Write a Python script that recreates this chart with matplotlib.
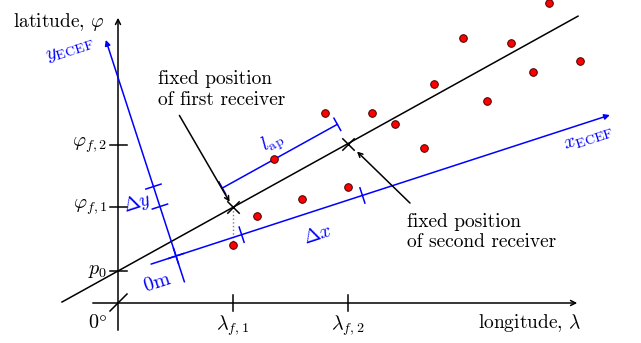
import numpy as np
import matplotlib
matplotlib.use('Agg')
import matplotlib.pyplot as plt

plt.rcParams.update({
    'font.family': 'serif',
    'font.serif': ['cmr10', 'DejaVu Serif'],
    'mathtext.fontset': 'cm',
    'axes.unicode_minus': False,
})

# diagram units: pixels relative to the origin of the lon/lat axes
DOT_LON = [115, 139, 184, 230, 156, 207, 254, 277, 306, 316, 345, 369, 393, 415, 431, 462]
DOT_LAT = [58, 87, 104, 116, 144, 190, 190, 179, 155, 219, 265, 202, 260, 231, 300, 242]

P0 = 32
SLOPE = 0.554
RX_LON = [115, 230]                      # lambda_f,1 / lambda_f,2
RX_LAT = [P0 + SLOPE * x for x in RX_LON]
PHI_TICKS = [P0, 96, 158]
PHI_LABELS = [r'$p_0$', r'$\varphi_{f,1}$', r'$\varphi_{f,2}$']
LAM_LABELS = [r'$\lambda_{f,1}$', r'$\lambda_{f,2}$']

ECEF_ORIGIN = (58, 47)
ECEF_ANGLE = 18.0
DX_TICKS = [69, 196]
DY_TICKS = [52, 73]

BLUE = '#0000FF'

fig = plt.figure(figsize=(6.41, 3.43), dpi=100)
ax = fig.add_axes([0, 0, 1, 1])
ax.set_xlim(-118, 523)
ax.set_ylim(-40, 303)
ax.axis('off')

FS = 14
MFS = 14.5

# --- lon / lat axes ---
ax.annotate('', xy=(462, 0), xytext=(-28, 0),
            arrowprops=dict(arrowstyle='->', color='black', lw=1.1, mutation_scale=9))
ax.annotate('', xy=(0, 288), xytext=(0, -30),
            arrowprops=dict(arrowstyle='->', color='black', lw=1.1, mutation_scale=9))
ax.plot([-8, 9], [-8, 9], color='black', lw=1.1)
ax.text(-21, -20, r'$0\degree$', fontsize=MFS, ha='center', va='center')
ax.text(-13, 281, r'latitude, $\varphi$', fontsize=FS, ha='right', va='center')
ax.text(463, -20, r'longitude, $\lambda$', fontsize=FS, ha='right', va='center')

for y, lab in zip(PHI_TICKS, PHI_LABELS):
    ax.plot([-8, 9], [y, y], color='black', lw=1.1)
    ax.text(-11, y, lab, fontsize=MFS, ha='right', va='center')
for x, lab in zip(RX_LON, LAM_LABELS):
    ax.plot([x, x], [-8, 8], color='black', lw=1.1)
    ax.text(x, -23, lab, fontsize=MFS, ha='center', va='center')

# --- receiver line ---
xl = np.array([-56, 460])
ax.plot(xl, P0 + SLOPE * xl, color='black', lw=1.1)
ax.scatter(RX_LON, RX_LAT, marker='x', s=80, color='black', lw=1.1, zorder=5)

# --- ECEF axes ---
th = np.deg2rad(ECEF_ANGLE)
ex = np.array([np.cos(th), np.sin(th)])
ey = np.array([-np.sin(th), np.cos(th)])
o = np.array(ECEF_ORIGIN)
ax.annotate('', xy=o + 459 * ex, xytext=o - 29 * ex,
            arrowprops=dict(arrowstyle='-|>', color=BLUE, lw=1.1, mutation_scale=8))
ax.annotate('', xy=o + 230 * ey, xytext=o - 30 * ey,
            arrowprops=dict(arrowstyle='-|>', color=BLUE, lw=1.1, mutation_scale=8))
for t in [0] + DX_TICKS:
    p = o + t * ex
    a, b = p - 8 * ey, p + 8 * ey
    ax.plot([a[0], b[0]], [a[1], b[1]], color=BLUE, lw=1.1)
for t in [0] + DY_TICKS:
    p = o + t * ey
    a, b = p - 8 * ex, p + 8 * ex
    ax.plot([a[0], b[0]], [a[1], b[1]], color=BLUE, lw=1.1)
ax.text(-48, 253, r'$y_{\mathrm{ECEF}}$', color=BLUE, fontsize=MFS, rotation=ECEF_ANGLE,
        ha='center', va='center')
ax.text(471, 164, r'$x_{\mathrm{ECEF}}$', color=BLUE, fontsize=MFS, rotation=ECEF_ANGLE,
        ha='center', va='center')
ax.text(39, 20, r'$0\mathrm{m}$', color=BLUE, fontsize=MFS, rotation=ECEF_ANGLE,
        ha='center', va='center')
ax.text(19, 100, r'$\Delta y$', color=BLUE, fontsize=MFS, rotation=ECEF_ANGLE,
        ha='center', va='center')
ax.text(200, 68, r'$\Delta x$', color=BLUE, fontsize=MFS, rotation=ECEF_ANGLE,
        ha='center', va='center')

# --- l_ap dimension line ---
phi = np.arctan(SLOPE)
n = np.array([-np.sin(phi), np.cos(phi)])
p1 = np.array([RX_LON[0], RX_LAT[0]]) + 22 * n
p2 = np.array([RX_LON[1], RX_LAT[1]]) + 22 * n
ax.plot([p1[0], p2[0]], [p1[1], p2[1]], color=BLUE, lw=1.1)
for p in (p1, p2):
    a, b = p - 7 * n, p + 7 * n
    ax.plot([a[0], b[0]], [a[1], b[1]], color=BLUE, lw=1.1)
mid = (p1 + p2) / 2 + 15 * n
ax.text(mid[0], mid[1], r'$l_{\mathrm{ap}}$', color=BLUE, fontsize=MFS,
        rotation=np.rad2deg(phi), ha='center', va='center')

# --- dotted drop from first receiver ---
ax.plot([RX_LON[0], RX_LON[0]], [RX_LAT[0], DOT_LAT[0]], color='gray', lw=1, ls=':')

# --- measurements ---
ax.scatter(DOT_LON, DOT_LAT, s=30, color='#FF0000', edgecolors='#400000',
           linewidths=0.7, zorder=6)

# --- annotations ---
ax.annotate('', xy=(RX_LON[0] - 2, RX_LAT[0] + 3), xytext=(60, 190),
            arrowprops=dict(arrowstyle='->', color='black', lw=1.1, mutation_scale=8))
ax.text(40, 213.5, 'fixed position\nof first receiver', fontsize=FS,
        ha='left', va='center', linespacing=1.2)
ax.annotate('', xy=(RX_LON[1] + 7, RX_LAT[1] - 6), xytext=(294, 98),
            arrowprops=dict(arrowstyle='->', color='black', lw=1.1, mutation_scale=8))
ax.text(289, 71, 'fixed position\nof second receiver', fontsize=FS,
        ha='left', va='center', linespacing=1.2)

fig.savefig('out.png', dpi=100)
